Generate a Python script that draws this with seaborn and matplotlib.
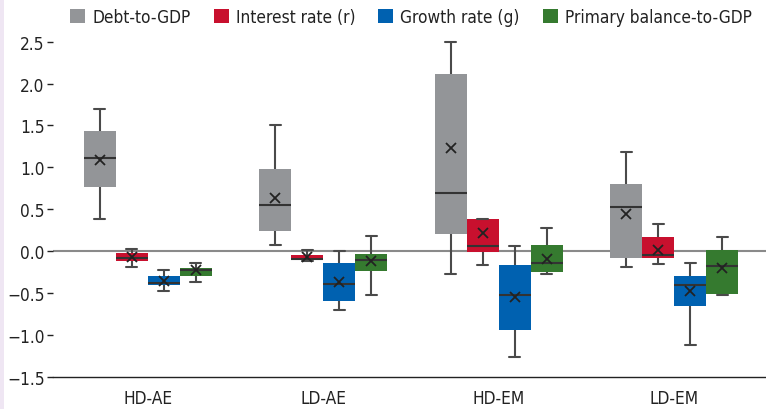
import numpy as np
import pandas as pd
import matplotlib
matplotlib.use("Agg")
import matplotlib.pyplot as plt
from matplotlib.patches import Patch, Rectangle
import seaborn as sns

# ---- data: per series, per group [min, q1, median, q3, max] ----
groups = ["HD-AE", "LD-AE", "HD-EM", "LD-EM"]
series = ["Debt-to-GDP", "Interest rate (r)", "Growth rate (g)", "Primary balance-to-GDP"]

debt_box = [[0.39, 0.77, 1.11, 1.43, 1.70],
            [0.07, 0.24, 0.55, 0.98, 1.50],
            [-0.27, 0.20, 0.69, 2.11, 2.49],
            [-0.19, -0.08, 0.53, 0.80, 1.18]]
interest_box = [[-0.19, -0.12, -0.08, -0.02, 0.03],
                [-0.12, -0.10, -0.095, -0.05, 0.02],
                [-0.16, -0.01, 0.06, 0.38, 0.38],
                [-0.15, -0.08, -0.04, 0.17, 0.32]]
growth_box = [[-0.48, -0.40, -0.38, -0.30, -0.22],
              [-0.70, -0.59, -0.39, -0.14, 0.00],
              [-1.26, -0.94, -0.52, -0.17, 0.06],
              [-1.12, -0.65, -0.40, -0.29, -0.14]]
primary_box = [[-0.37, -0.30, -0.22, -0.20, -0.14],
               [-0.52, -0.24, -0.10, -0.03, 0.18],
               [-0.27, -0.25, -0.14, 0.07, 0.28],
               [-0.52, -0.51, -0.18, 0.02, 0.17]]

debt_mean = [1.09, 0.63, 1.23, 0.45]
interest_mean = [-0.07, -0.07, 0.22, 0.02]
growth_mean = [-0.36, -0.37, -0.55, -0.48]
primary_mean = [-0.22, -0.12, -0.09, -0.20]

colors = ["#939598", "#c8102e", "#0061b0", "#357a2f"]

# ---- long-form tables ----
rows, mrows = [], []
for s, box, means in zip(series,
                         [debt_box, interest_box, growth_box, primary_box],
                         [debt_mean, interest_mean, growth_mean, primary_mean]):
    for g, stats, m in zip(groups, box, means):
        for v in stats:
            rows.append({"group": g, "series": s, "value": v})
        mrows.append({"group": g, "series": s, "value": m})
df = pd.DataFrame(rows)
dfm = pd.DataFrame(mrows)

sns.set_theme(style="white")
plt.rcParams["font.family"] = ["DejaVu Sans"]
plt.rcParams["font.stretch"] = "condensed"
plt.rcParams["axes.unicode_minus"] = True

FS = 12.4
W, H = 766, 410
fig = plt.figure(figsize=(W / 100, H / 100), dpi=100)
ax_left, ax_right = 53, 766
y_bottom_px, y_top_px = 378, 34.25
ax = fig.add_axes([ax_left / W, 1 - y_bottom_px / H,
                   (ax_right - ax_left) / W, (y_bottom_px - y_top_px) / H])

fig.patches.append(Rectangle((0, 0), 4 / W, 1, transform=fig.transFigure,
                             facecolor="#efe6f3", edgecolor="none", zorder=0))

ax.axhline(0, color="#8a8a8a", lw=1.5, zorder=0.5)

BW = 0.73
n_before = len(ax.lines)
sns.boxplot(data=df, x="group", y="value", hue="series", order=groups,
            hue_order=series, palette=colors, width=BW, gap=0, whis=np.inf,
            saturation=1, linecolor="#4a4a4a", linewidth=1.5,
            medianprops=dict(color="#333333", linewidth=1.5),
            legend=False, ax=ax, zorder=2)
for p in ax.patches:
    p.set_linewidth(0)

# narrow the whisker caps (caps are the short horizontal lines)
box_w = BW / 4
for ln in ax.lines[n_before:]:
    xd, yd = np.asarray(ln.get_xdata(), float), np.asarray(ln.get_ydata(), float)
    if len(xd) == 2 and np.isclose(yd[0], yd[1]):
        span = abs(xd[1] - xd[0])
        if span < box_w * 0.9 and span > 0:
            c = xd.mean()
            half = box_w * 0.34 / 2
            ln.set_xdata([c - half, c + half])

sns.pointplot(data=dfm, x="group", y="value", hue="series", order=groups,
              hue_order=series, dodge=BW * 3 / 4, errorbar=None,
              palette=["#222222"] * 4, markers="x", linestyle="none",
              markersize=7, markeredgewidth=1.3, legend=False, ax=ax)
for ln in ax.lines[-12:]:
    ln.set_zorder(5)

ax.set_xlim(-0.5 - 7 / 175.5, 3.5 + 4 / 175.5)
ax.set_ylim(-1.5, 2.6)
ax.set_yticks(np.arange(-1.5, 2.51, 0.5))
ax.set_yticklabels([f"{v:.1f}".replace("-", "\u2212") for v in np.arange(-1.5, 2.51, 0.5)])
ax.set_xticks(range(4))
ax.set_xticklabels(groups)
ax.set_xticks(np.arange(-0.5, 3.6, 1), minor=True)
ax.tick_params(axis="x", which="major", length=0, labelsize=FS, pad=9, colors="#222222")
ax.tick_params(axis="x", which="minor", length=5, direction="in", width=1, color="#222222")
ax.tick_params(axis="y", which="major", length=4, width=1, direction="out", pad=2,
               labelsize=FS, colors="#222222", left=True)
ax.set_xlabel("")
ax.set_ylabel("")
for side in ["top", "right", "left"]:
    ax.spines[side].set_visible(False)
ax.spines["bottom"].set_color("#222222")
ax.spines["bottom"].set_linewidth(1)

handles = [Patch(facecolor=c, edgecolor="none") for c in colors]
fig.legend(handles, series, loc="center", bbox_to_anchor=(411 / W, 1 - 18 / H),
           ncol=4, frameon=False, fontsize=FS, handlelength=0.87, handleheight=0.87,
           handletextpad=0.4, columnspacing=1.35, labelcolor="#222222")

fig.savefig("out.png", dpi=100)
